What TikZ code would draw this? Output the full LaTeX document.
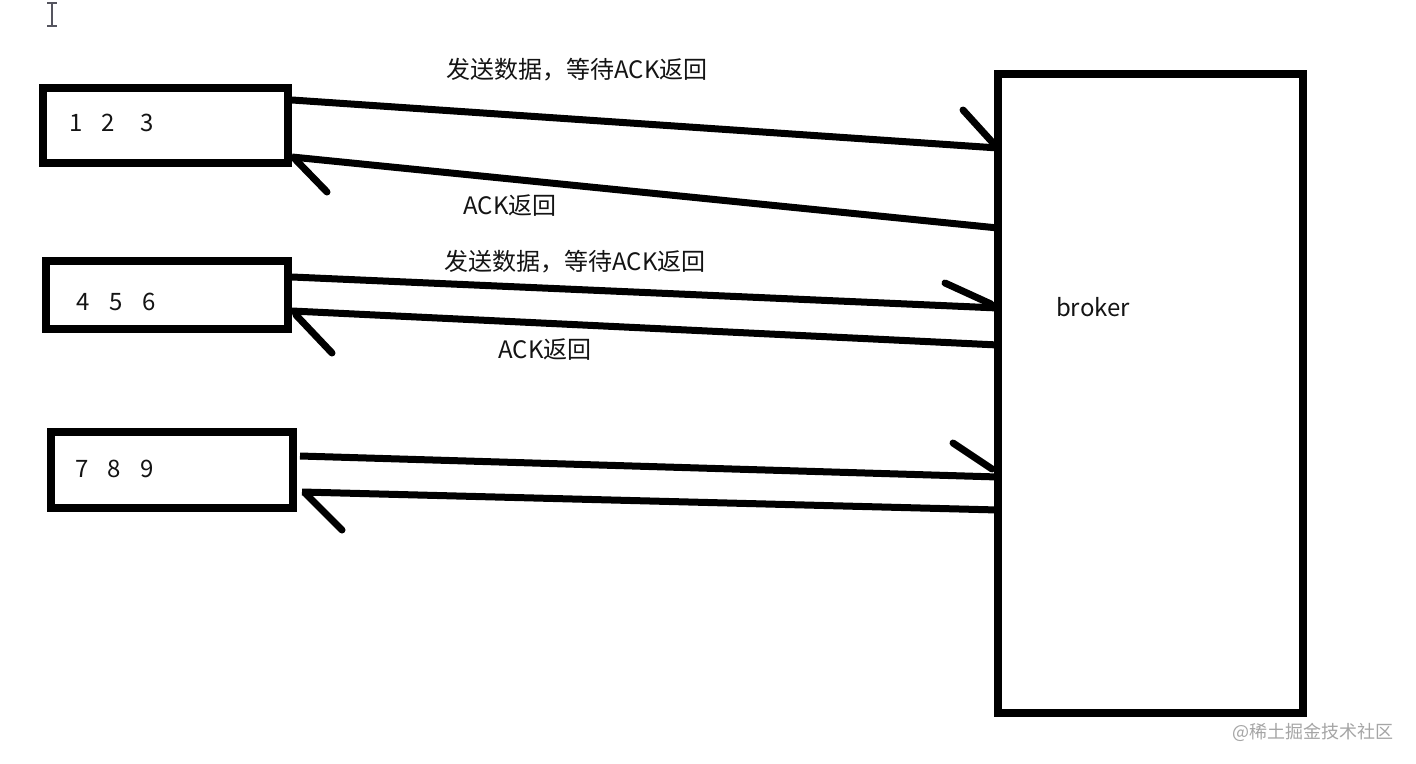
\documentclass[tikz,border=0pt]{standalone}
\usepackage{fontspec}
\setmainfont{Noto Sans CJK SC}
\usetikzlibrary{calc}
\definecolor{ink}{RGB}{20,20,20}
\definecolor{wm}{RGB}{165,165,165}
\definecolor{cur}{RGB}{85,85,95}
\begin{document}
\begin{tikzpicture}[x=1pt,y=-1pt,
  boxst/.style={draw=black,line width=8pt,outer sep=0pt,inner sep=0pt,fill=white},
  conn/.style={line width=7pt,black},
  barb/.style={line width=7pt,black,line cap=round},
  lbl/.style={font=\fontsize{24pt}{27pt}\selectfont,text=ink,inner sep=0pt},
  wmst/.style={font=\fontsize{18pt}{20pt}\selectfont,text=wm,inner sep=0pt}]
\useasboundingbox (0,0) rectangle (1416,763);
\fill[white] (0,0) rectangle (1416,763);
% cursor
\draw[cur,line width=1.6pt] (52,4) -- (52,25) (47,3) -- (57,3) (47,26) -- (57,26);
% boxes
\node[boxst,minimum width=245pt,minimum height=75pt] (b1) at (165.5,125.5) {};
\node[boxst,minimum width=242pt,minimum height=68pt] (b2) at (167,295) {};
\node[boxst,minimum width=242pt,minimum height=76pt] (b3) at (172,470) {};
\node[boxst,minimum width=305pt,minimum height=639pt] (brk) at (1150.5,393.5) {};
% contents
\node[lbl,anchor=west] (t1) at (69,123) {1\hspace{19pt}2\hspace{26pt}3};
\node[lbl,anchor=west] (t2) at (76,302) {4\hspace{20pt}5\hspace{20pt}6};
\node[lbl,anchor=west] (t3) at (75,469) {7\hspace{19pt}8\hspace{20pt}9};
\node[lbl] (tb) at (1093,307) {broker};
% coordinates
\coordinate (s1) at ($(b1.north east)+(4,12)$);
\coordinate (e1) at ($(brk.north west)+(0,74)$);
\coordinate (s2) at ($(brk.north west)+(0,154)$);
\coordinate (e2) at ($(b1.south east)+(4,-6)$);
\coordinate (s3) at ($(b2.north east)+(4,16)$);
\coordinate (e3) at ($(brk.north west)+(0,234)$);
\coordinate (s4) at ($(brk.north west)+(0,271)$);
\coordinate (e4) at ($(b2.south east)+(4,-18)$);
\coordinate (s5) at ($(b3.north east)+(7,24)$);
\coordinate (e5) at ($(brk.north west)+(0,403)$);
\coordinate (s6) at ($(brk.north west)+(0,436)$);
\coordinate (e6) at ($(b3.south east)+(9,-16)$);
% connectors
\draw[conn] (s1) -- (e1);
\draw[barb] ($(e1)+(-35,-38)$) -- ($(e1)+(-5,-5)$);
\draw[conn] (s2) -- (e2);
\draw[barb] ($(e2)+(3,2)$) -- ($(e2)+(35,35)$);
\draw[conn] (s3) -- (e3);
\draw[barb] ($(e3)+(-53,-25)$) -- ($(e3)+(-7,-4)$);
\draw[conn] (s4) -- (e4);
\draw[barb] ($(e4)+(4,4)$) -- ($(e4)+(40,42)$);
\draw[conn] (s5) -- (e5);
\draw[barb] ($(e5)+(-45,-34)$) -- ($(e5)+(-6,-8)$);
\draw[conn] (s6) -- (e6);
\draw[barb] ($(e6)+(4,2)$) -- ($(e6)+(40,38)$);
% labels
\node[lbl] (l1) at (577,70) {发送数据，等待ACK返回};
\node[lbl] (l2) at (510,206) {ACK返回};
\node[lbl] (l3) at (575,262) {发送数据，等待ACK返回};
\node[lbl] (l4) at (545,350) {ACK返回};
\node[wmst] (wmk) at (1313,732) {@稀土掘金技术社区};
\end{tikzpicture}
\end{document}
